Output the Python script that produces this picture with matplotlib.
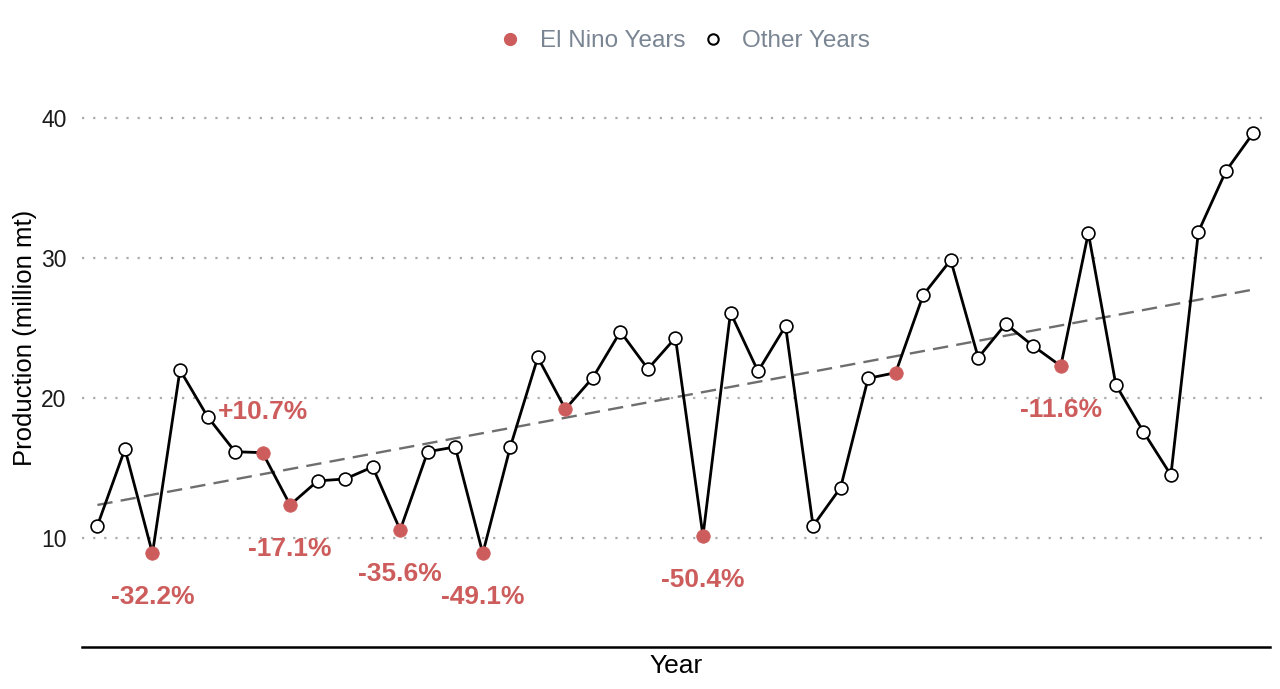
import numpy as np
import matplotlib
matplotlib.use("Agg")
import matplotlib.pyplot as plt
from matplotlib.lines import Line2D

plt.rcParams['font.family'] = ['Liberation Sans', 'DejaVu Sans']

years = list(range(1961, 2004))
production = [10.86, 16.34, 8.88, 22.0, 18.66, 16.15, 16.08, 12.34, 14.06, 14.2,
              15.06, 10.55, 16.15, 16.49, 8.88, 16.49, 22.9, 19.2, 21.45, 24.74,
              22.07, 24.3, 10.12, 26.1, 21.9, 25.14, 10.84, 13.58, 21.4, 21.8,
              27.36, 29.86, 22.88, 25.29, 23.71, 22.28, 31.8, 20.94, 17.58, 14.48,
              31.89, 36.23, 38.97]
el_nino_years = [1963, 1967, 1968, 1972, 1975, 1978, 1983, 1990, 1996]
label_years = [1963, 1967, 1968, 1972, 1975, 1983, 1996]
label_texts = ["-32.2%", "+10.7%", "-17.1%", "-35.6%", "-49.1%", "-50.4%", "-11.6%"]

RED = "#CD5C5C"

fig = plt.figure(figsize=(12.8, 6.89), dpi=100)
top_px = 29
ax = fig.add_axes([82/1280, 1-647/689, (1270-82)/1280, (647-top_px)/689])

x = np.array(years)
y = np.array(production)

# trend
coef = np.polyfit(x, y, 1)
ax.plot(x, np.polyval(coef, x), color="#6e6e6e", lw=1.7, ls=(0, (6.5, 3.5)), zorder=2)

ax.plot(x, y, color="black", lw=2.0, zorder=3)
is_en = np.isin(x, el_nino_years)
ax.scatter(x[~is_en], y[~is_en], s=85, facecolor="white", edgecolor="black",
           linewidth=1.2, zorder=4)
ax.scatter(x[is_en], y[is_en], s=95, facecolor=RED, edgecolor=RED,
           linewidth=0.5, zorder=4)

for yr, txt in zip(label_years, label_texts):
    v = production[years.index(yr)]
    off = 29 if txt.startswith("+") else -31.5
    ax.annotate(txt, (yr, v), xytext=(0, off), textcoords="offset points",
                ha="center", va="center", color=RED, fontsize=19,
                fontweight="bold", zorder=5)

ax.set_xlim(years[0] - 0.56, years[-1] + 0.6)
ax.set_ylim(2.18, 10 + (537.7 - top_px) / 13.98)
ax.set_yticks([10, 20, 30, 40])
ax.set_xticks([])
ax.yaxis.grid(True, color="#aaaaaa", ls=(0, (1, 4)), lw=1.6)
ax.set_axisbelow(True)
for s in ["top", "right", "left"]:
    ax.spines[s].set_visible(False)
ax.spines["bottom"].set_linewidth(1.8)
ax.spines["bottom"].set_color("black")
ax.tick_params(axis="y", length=0, pad=11, labelsize=16.5, labelcolor="#1a1a1a")
ax.set_xlabel("Year", fontsize=19, labelpad=5, color="black")
ax.set_ylabel("Production (million mt)", fontsize=18.5, labelpad=3, color="black")

handles = [Line2D([], [], marker="o", ls="none", markersize=8.5, markerfacecolor=RED,
                  markeredgecolor=RED, label="El Nino Years"),
           Line2D([], [], marker="o", ls="none", markersize=7.5, markerfacecolor="white",
                  markeredgecolor="black", markeredgewidth=1.5, label="Other Years")]
leg = fig.legend(handles=handles, loc="center", bbox_to_anchor=(683/1280, 1-41/689),
                 ncol=2, frameon=False, fontsize=17.5, handletextpad=0.6,
                 columnspacing=0.55, handlelength=1.2)
for t in leg.get_texts():
    t.set_color("#7a8593")

fig.savefig("out.png", dpi=100)
